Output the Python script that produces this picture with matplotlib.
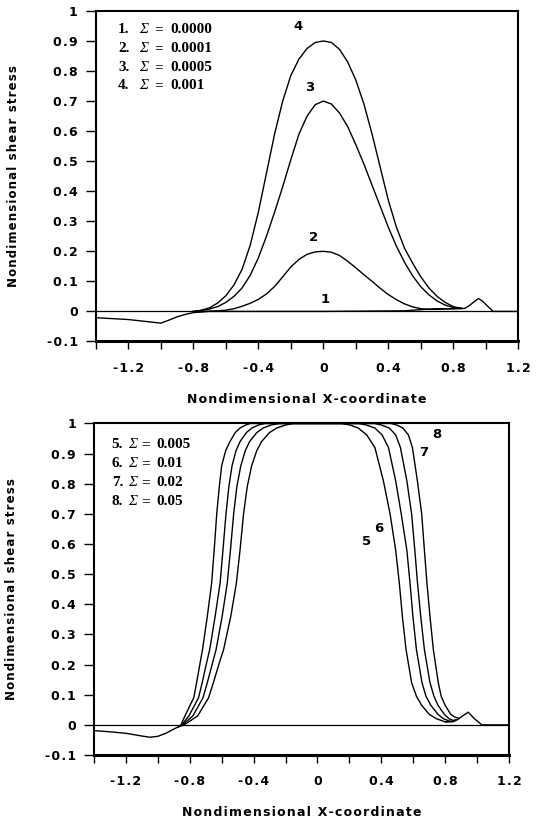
import numpy as np
import matplotlib
matplotlib.use("Agg")
import matplotlib.pyplot as plt
from matplotlib.ticker import FixedLocator, FixedFormatter
from matplotlib.transforms import offset_copy

matplotlib.rcParams['font.family'] = 'DejaVu Sans'
matplotlib.rcParams['font.weight'] = 'bold'
matplotlib.rcParams['axes.unicode_minus'] = False

# ---------------- upper panel: small Sigma ----------------
x_top = np.round(np.arange(-0.80, 0.851, 0.05), 2)

tau2 = [0.0, 0.0, 0.001, 0.002, 0.004, 0.009, 0.017, 0.027, 0.04, 0.058,
        0.083, 0.115, 0.148, 0.173, 0.19, 0.198, 0.20, 0.197, 0.186, 0.167,
        0.145, 0.122, 0.10, 0.077, 0.056, 0.039, 0.025, 0.015, 0.009, 0.007,
        0.007, 0.008, 0.009, 0.01]
tau3 = [0.0, 0.003, 0.008, 0.016, 0.03, 0.05, 0.078, 0.12, 0.178, 0.25,
        0.33, 0.415, 0.505, 0.59, 0.65, 0.688, 0.70, 0.69, 0.66, 0.615,
        0.555, 0.49, 0.42, 0.35, 0.28, 0.217, 0.163, 0.118, 0.082, 0.055,
        0.035, 0.021, 0.013, 0.01]
tau4 = [0.0, 0.004, 0.012, 0.028, 0.052, 0.088, 0.14, 0.22, 0.33, 0.46,
        0.59, 0.70, 0.785, 0.84, 0.875, 0.895, 0.90, 0.895, 0.872, 0.83,
        0.77, 0.69, 0.59, 0.48, 0.37, 0.28, 0.21, 0.16, 0.115, 0.078,
        0.05, 0.03, 0.016, 0.01]

# curve 1 (Sigma = 0) runs over the whole domain
x1 = [-1.4, -1.3, -1.2, -1.1, -1.0, -0.95, -0.9, -0.85, -0.8, -0.75, -0.7,
      0.0, 0.5, 0.6, 0.7, 0.8, 0.87, 0.9, 0.93, 0.955, 0.98, 1.01, 1.045, 1.2]
tau1 = [-0.021, -0.024, -0.027, -0.033, -0.039, -0.029, -0.018, -0.01,
        -0.004, -0.002, 0.0, 0.0, 0.002, 0.006, 0.009, 0.009, 0.01, 0.02,
        0.033, 0.043, 0.034, 0.018, 0.0, 0.0]

sigma_top = ['0.0000', '0.0001', '0.0005', '0.001']

# ---------------- lower panel: large Sigma ----------------
# rising flank, common levels of tau
lev_up = [-0.006, 0.0, 0.03, 0.09, 0.14, 0.2, 0.25, 0.36, 0.47, 0.58, 0.7,
          0.79, 0.86, 0.91, 0.94, 0.97, 0.985, 0.995, 1.0]
up5 = [-0.87, -0.835, -0.75, -0.682, -0.652, -0.618, -0.588, -0.543, -0.508,
       -0.485, -0.463, -0.44, -0.412, -0.38, -0.35, -0.30, -0.255, -0.20, -0.15]
up6 = [-0.87, -0.845, -0.78, -0.717, -0.69, -0.66, -0.635, -0.597, -0.565,
       -0.545, -0.525, -0.505, -0.48, -0.452, -0.425, -0.38, -0.34, -0.29, -0.24]
up7 = [-0.87, -0.85, -0.805, -0.745, -0.722, -0.697, -0.675, -0.641, -0.61,
       -0.592, -0.573, -0.555, -0.535, -0.51, -0.485, -0.445, -0.41, -0.37, -0.33]
up8 = [-0.87, -0.855, -0.83, -0.775, -0.757, -0.737, -0.72, -0.69, -0.663,
       -0.647, -0.631, -0.615, -0.60, -0.575, -0.548, -0.515, -0.485, -0.45, -0.42]

# falling flank
lev_dn = [1.0, 0.995, 0.985, 0.962, 0.92, 0.81, 0.7, 0.58, 0.47, 0.36, 0.25,
          0.14, 0.095, 0.065, 0.035]
dn5 = [0.15, 0.204, 0.255, 0.309, 0.36, 0.413, 0.455, 0.49, 0.513, 0.532,
       0.555, 0.59, 0.62, 0.653, 0.70]
dn6 = [0.26, 0.305, 0.36, 0.405, 0.445, 0.49, 0.525, 0.56, 0.58, 0.598,
       0.62, 0.655, 0.68, 0.71, 0.755]
dn7 = [0.36, 0.40, 0.45, 0.49, 0.52, 0.56, 0.59, 0.61, 0.627, 0.647,
       0.67, 0.705, 0.73, 0.755, 0.795]
dn8 = [0.46, 0.497, 0.535, 0.57, 0.595, 0.626, 0.653, 0.67, 0.686, 0.705,
       0.726, 0.757, 0.775, 0.80, 0.835]
# foot of each falling flank where it meets the bump
foot_x = {5: [0.747, 0.80, 0.85], 6: [0.79, 0.83, 0.86],
          7: [0.825, 0.85, 0.87], 8: [0.86, 0.885]}
foot_y = {5: [0.02, 0.01, 0.011], 6: [0.02, 0.012, 0.013],
          7: [0.02, 0.015, 0.017], 8: [0.026, 0.022]}

tail_x = [-1.4, -1.3, -1.2, -1.1, -1.05, -1.0, -0.95, -0.9, -0.87]
tail_y = [-0.019, -0.023, -0.028, -0.037, -0.041, -0.038, -0.028, -0.014, -0.006]
bump_x = [0.80, 0.85, 0.88, 0.91, 0.945, 0.98, 1.03, 1.2]
bump_y = [0.01, 0.011, 0.018, 0.03, 0.042, 0.022, 0.0, 0.0]

sigma_bot = ['0.005', '0.01', '0.02', '0.05']

yticks = [-0.1, 0, 0.1, 0.2, 0.3, 0.4, 0.5, 0.6, 0.7, 0.8, 0.9, 1.0]
ytick_labels = ['-0.1', '0', '0.1', '0.2', '0.3', '0.4', '0.5', '0.6', '0.7',
                '0.8', '0.9', '1']
xticks_major = [-1.2, -0.8, -0.4, 0, 0.4, 0.8, 1.2]
xtick_labels = ['-1.2', '-0.8', '-0.4', '0', '0.4', '0.8', '1.2']
xticks_minor = [-1.4, -1.0, -0.6, -0.2, 0.2, 0.6, 1.0]


def spaced(s):
    # loose letter spacing, like the typewriter-ish labels
    return '\u200a'.join(s)


def style_axes(ax):
    ax.set_xlim(-1.4, 1.2)
    ax.set_ylim(-0.1, 1.0)
    ax.axhline(0, color='black', lw=0.9)
    for s in ['top', 'right', 'left']:
        ax.spines[s].set_linewidth(1.5)
    ax.spines['bottom'].set_linewidth(2.2)
    ax.yaxis.set_major_locator(FixedLocator(yticks))
    ax.yaxis.set_major_formatter(FixedFormatter([spaced(t) for t in ytick_labels]))
    ax.xaxis.set_major_locator(FixedLocator(xticks_major))
    ax.xaxis.set_major_formatter(FixedFormatter([spaced(t) for t in xtick_labels]))
    ax.xaxis.set_minor_locator(FixedLocator(xticks_minor))
    ax.tick_params(axis='y', direction='out', length=7, width=1, pad=6,
                   labelsize=9)
    ax.tick_params(axis='x', which='both', direction='out', length=5.5,
                   width=1, pad=9, labelsize=9)
    ax.set_xlabel(spaced('Nondimensional X-coordinate'), fontsize=9,
                  fontweight='bold', labelpad=13)
    ax.set_ylabel(spaced('Nondimensional shear stress'), fontsize=8.5,
                  fontweight='bold', labelpad=19)


def sigma_legend(ax, x0, y0, dy, first, values, offs):
    # "n.  Sigma = value" lines, Sigma in italic serif
    serif = dict(family='Liberation Serif', fontsize=11, fontweight='bold',
                 va='center', ha='left')
    for i, v in enumerate(values):
        y = y0 - i * dy
        ax.text(x0, y, '%d.' % (first + i), **serif)
        ax.text(x0, y, 'Σ', style='italic',
                transform=offset_copy(ax.transData, fig=fig, x=offs[0], y=0,
                                      units='points'),
                **{k: serif[k] for k in serif if k != 'fontweight'},
                fontweight='normal')
        ax.text(x0, y, '=', transform=offset_copy(ax.transData, fig=fig,
                                                  x=offs[1], y=0, units='points'),
                **serif)
        ax.text(x0, y, v, transform=offset_copy(ax.transData, fig=fig,
                                                x=offs[2], y=0, units='points'),
                **serif)


fig = plt.figure(figsize=(5.42, 8.22), dpi=100)
ax1 = fig.add_axes([0.1768, 0.5846, 0.7795, 0.4021])
ax2 = fig.add_axes([0.1734, 0.0815, 0.7657, 0.4033])

kw = dict(color='black', lw=1.0)

# upper panel
ax1.plot(x1, tau1, **kw)
ax1.plot(x_top, tau2, **kw)
ax1.plot(x_top, tau3, **kw)
ax1.plot(x_top, tau4, **kw)
style_axes(ax1)
sigma_legend(ax1, -1.263, 0.937, 0.0622, 1, sigma_top, (15, 26, 38))
for lab, (lx, ly) in zip('1234', [(0.01, 0.038), (-0.062, 0.245),
                                  (-0.082, 0.744), (-0.157, 0.947)]):
    ax1.text(lx, ly, lab, fontsize=9.5, fontweight='bold', ha='center',
             va='center')

# lower panel
ax2.plot(tail_x, tail_y, **kw)
ax2.plot(bump_x, bump_y, **kw)
for n, up, dn in [(5, up5, dn5), (6, up6, dn6), (7, up7, dn7), (8, up8, dn8)]:
    xs = list(up) + list(dn) + foot_x[n]
    ys = list(lev_up) + list(lev_dn) + foot_y[n]
    ax2.plot(xs, ys, clip_on=False, **kw)
style_axes(ax2)
sigma_legend(ax2, -1.289, 0.929, 0.0628, 5, sigma_bot, (12, 21.5, 32))
for lab, (lx, ly) in zip('5678', [(0.309, 0.607), (0.381, 0.652),
                                  (0.663, 0.903), (0.747, 0.962)]):
    ax2.text(lx, ly, lab, fontsize=9.5, fontweight='bold', ha='center',
             va='center')

fig.savefig('out.png', dpi=100)
